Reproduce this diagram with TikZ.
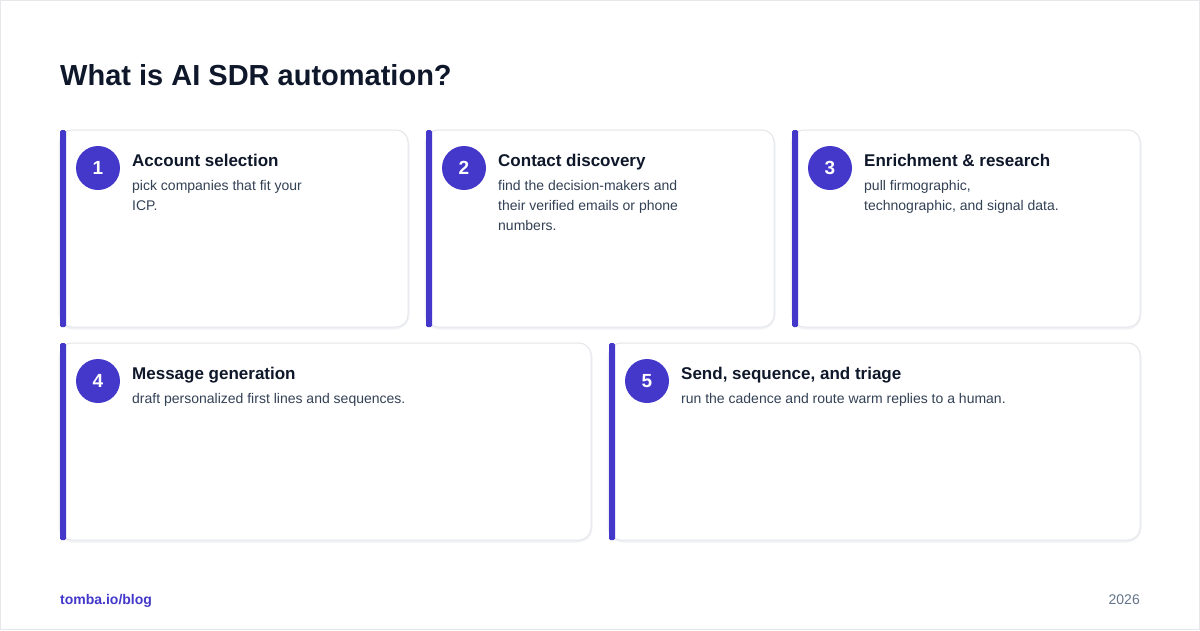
\documentclass[tikz,border=0pt]{standalone}
\usepackage{fontspec}
\setmainfont{Liberation Sans}
\definecolor{accent}{HTML}{4338CA}
\definecolor{titlec}{HTML}{0F172A}
\definecolor{descc}{HTML}{334155}
\definecolor{cardborder}{HTML}{E5E7EB}
\definecolor{shadowc}{HTML}{F1F2F5}
\definecolor{footc}{HTML}{64748B}
\tikzset{
  card/.style={draw=cardborder, line width=1pt, fill=white, rounded corners=12pt},
  cardshadow/.style={draw=shadowc, line width=3pt, rounded corners=13pt},
  bar/.style={fill=accent, rounded corners=1.5pt},
  num/.style={circle, fill=accent, minimum size=44pt, inner sep=0pt, text=white, font=\bfseries\fontsize{19}{19}\selectfont},
  ttl/.style={anchor=base west, inner sep=0pt, text=titlec, font=\bfseries\fontsize{17}{20}\selectfont},
  desc/.style={anchor=base west, inner sep=0pt, text=descc, font=\fontsize{14}{20}\selectfont},
}
\newcommand{\mycard}[8]{%
  \draw[cardshadow] (#2,#3+1) rectangle (#4,#5+1);
  \draw[card] (#2,#3) rectangle (#4,#5);
  \fill[bar] (#2,#3) rectangle (#2+6,#5);
  \node[num] (#1n) at (#2+38,#3+38) {#6};
  \node[ttl] (#1t) at (#2+72,#3+36) {#7};
  \foreach \l [count=\i] in {#8} {
    \node[desc] (#1d\i) at (#2+72,#3+40+20*\i) {\l};
  }
}
\begin{document}
\begin{tikzpicture}[x=1pt,y=-1pt]
\useasboundingbox (0,0) rectangle (1200,630);
\fill[white] (0,0) rectangle (1200,630);
\draw[cardborder, line width=1pt] (0.5,0.5) rectangle (1199.5,629.5);
\node[anchor=base west, inner sep=0pt, text=titlec, font=\bfseries\fontsize{29}{34}\selectfont] (head) at (60,85) {What is AI SDR automation?};
\mycard{a}{60}{130}{408}{327}{1}{Account selection}{{pick companies that fit your},{ICP.}}
\mycard{b}{426}{130}{774}{327}{2}{Contact discovery}{{find the decision-makers and},{their verified emails or phone},{numbers.}}
\mycard{c}{792}{130}{1140}{327}{3}{Enrichment \& research}{{pull firmographic,},{technographic, and signal data.}}
\mycard{d}{60}{343}{591}{540}{4}{Message generation}{{draft personalized first lines and sequences.}}
\mycard{e}{609}{343}{1140}{540}{5}{Send, sequence, and triage}{{run the cadence and route warm replies to a human.}}
\node[anchor=base west, inner sep=0pt, text=accent, font=\bfseries\fontsize{14}{16}\selectfont] (foot) at (60,604) {tomba.io/blog};
\node[anchor=base east, inner sep=0pt, text=footc, font=\fontsize{14}{16}\selectfont] (year) at (1140,604) {2026};
\end{tikzpicture}
\end{document}
